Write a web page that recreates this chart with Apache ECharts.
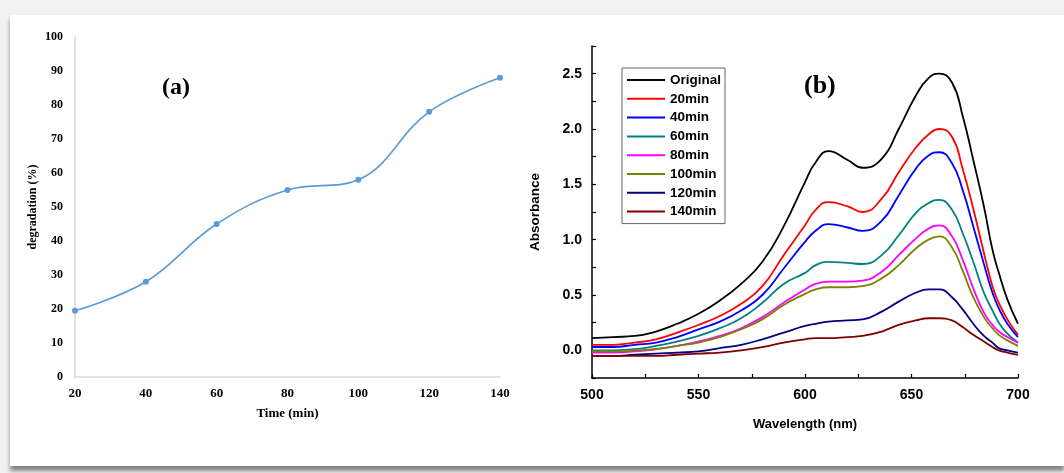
<!DOCTYPE html>
<html>
<head>
<meta charset="utf-8">
<script src="https://cdn.jsdelivr.net/npm/echarts@6/dist/echarts.min.js"></script>
<style>
  html, body { margin: 0; padding: 0; }
  body { width: 1064px; height: 473px; background: #f1f1f1; position: relative; overflow: hidden; }
  #card { position: absolute; left: 10px; top: 15px; width: 1054px; height: 451px; background: #fff;
          box-shadow: 0 5px 4px rgba(0,0,0,0.45); }
  #main { position: absolute; left: 0; top: 0; width: 1064px; height: 473px; }
</style>
</head>
<body>
<div id="card"></div>
<div id="main"></div>
<script>
  // (a) degradation vs time
  var timeMin = [20, 40, 60, 80, 100, 120, 140];
  var degradation = [19.5, 28, 45, 55, 58, 78, 88];

  // (b) absorbance spectra
  var wavelength = [500, 510, 520, 530, 540, 550, 560, 570, 580, 590, 600, 605, 611, 620, 627,
                    636, 644, 652, 658, 663, 669, 674, 679, 684, 688, 691, 695, 700];
  var absOriginal = [0.11, 0.12, 0.13, 0.17, 0.24, 0.33, 0.45, 0.60, 0.80, 1.12, 1.52, 1.70, 1.80, 1.72, 1.65,
                     1.73, 2.00, 2.30, 2.46, 2.50, 2.42, 2.12, 1.72, 1.30, 0.91, 0.70, 0.46, 0.24];
  var abs20 = [0.05, 0.05, 0.07, 0.10, 0.16, 0.23, 0.31, 0.42, 0.58, 0.86, 1.13, 1.27, 1.34, 1.30, 1.25,
               1.37, 1.61, 1.83, 1.95, 2.00, 1.93, 1.64, 1.28, 0.88, 0.58, 0.43, 0.28, 0.14];
  var abs40 = [0.03, 0.03, 0.05, 0.07, 0.12, 0.19, 0.26, 0.36, 0.50, 0.74, 0.98, 1.08, 1.14, 1.11, 1.08,
               1.17, 1.40, 1.64, 1.76, 1.79, 1.69, 1.45, 1.12, 0.78, 0.52, 0.38, 0.24, 0.12];
  var abs60 = [0.00, 0.00, 0.01, 0.04, 0.08, 0.13, 0.20, 0.29, 0.43, 0.60, 0.70, 0.77, 0.80, 0.79, 0.78,
               0.86, 1.04, 1.24, 1.33, 1.36, 1.27, 1.06, 0.80, 0.52, 0.36, 0.25, 0.15, 0.07];
  var abs80 = [-0.02, -0.02, -0.01, 0.01, 0.04, 0.08, 0.13, 0.20, 0.30, 0.43, 0.55, 0.60, 0.62, 0.62, 0.63,
               0.71, 0.86, 1.01, 1.10, 1.13, 1.03, 0.82, 0.56, 0.34, 0.23, 0.17, 0.12, 0.07];
  var abs100 = [-0.01, -0.01, 0.00, 0.01, 0.04, 0.07, 0.12, 0.19, 0.28, 0.41, 0.51, 0.55, 0.57, 0.57, 0.58,
                0.65, 0.77, 0.92, 1.00, 1.03, 0.93, 0.72, 0.48, 0.30, 0.20, 0.14, 0.09, 0.04];
  var abs120 = [-0.05, -0.05, -0.04, -0.03, -0.02, -0.01, 0.02, 0.05, 0.10, 0.16, 0.22, 0.24, 0.26, 0.27, 0.28,
                0.35, 0.44, 0.52, 0.55, 0.55, 0.48, 0.37, 0.24, 0.13, 0.07, 0.02, 0.00, -0.02];
  var abs140 = [-0.05, -0.05, -0.05, -0.05, -0.04, -0.03, -0.02, 0.00, 0.03, 0.07, 0.10, 0.11, 0.11, 0.12, 0.13,
                0.17, 0.23, 0.27, 0.29, 0.29, 0.27, 0.21, 0.14, 0.08, 0.03, 0.00, -0.02, -0.04];

  var spectraNames = ['Original', '20min', '40min', '60min', '80min', '100min', '120min', '140min'];
  var spectraColors = ['#000000', '#ff0000', '#0000ff', '#008080', '#ff00ff', '#808000', '#000080', '#800000'];
  var spectra = [absOriginal, abs20, abs40, abs60, abs80, abs100, abs120, abs140];

  function pairs(xs, ys) {
    return xs.map(function (x, i) { return [x, ys[i]]; });
  }

  var serif = 'Liberation Serif';
  var sans = 'Liberation Sans';

  var series = [
    {
      name: 'degradation',
      type: 'line',
      xAxisIndex: 0,
      yAxisIndex: 0,
      smooth: 0.4,
      symbol: 'circle',
      symbolSize: 6,
      itemStyle: { color: '#5b9bd5' },
      lineStyle: { color: '#5b9bd5', width: 1.6 },
      data: pairs(timeMin, degradation),
    },
  ];
  spectra.forEach(function (s, i) {
    series.push({
      name: spectraNames[i],
      type: 'line',
      xAxisIndex: 1,
      yAxisIndex: 1,
      smooth: 0.5,
      symbol: 'none',
      lineStyle: { color: spectraColors[i], width: 1.8 },
      itemStyle: { color: spectraColors[i] },
      data: pairs(wavelength, s),
    });
  });

  var option = {
    animation: false,
    backgroundColor: 'transparent',
    grid: [
      { left: 75, right: 564, top: 37, bottom: 96 },
      { left: 592, right: 46, top: 46, bottom: 95 },
    ],
    legend: {
      data: spectraNames,
      orient: 'vertical',
      left: 622,
      top: 68,
      padding: [5, 4, 5, 5],
      itemGap: 4.8,
      itemWidth: 38,
      itemHeight: 2,
      icon: 'rect',
      borderColor: '#666',
      borderWidth: 1,
      textStyle: { fontFamily: sans, fontWeight: 'bold', fontSize: 13.5, color: '#000', lineHeight: 14 },
    },
    xAxis: [
      {
        gridIndex: 0,
        type: 'value',
        min: 20,
        max: 140,
        interval: 20,
        name: 'Time (min)',
        nameLocation: 'middle',
        nameGap: 30,
        nameTextStyle: { fontFamily: serif, fontWeight: 'bold', fontSize: 13, color: '#000' },
        axisLine: { show: true, lineStyle: { color: '#d9d9d9', width: 1.5 } },
        axisTick: { show: false },
        splitLine: { show: false },
        axisLabel: { margin: 10, fontFamily: serif, fontWeight: 'bold', fontSize: 13, color: '#000' },
      },
      {
        gridIndex: 1,
        type: 'value',
        min: 500,
        max: 700,
        interval: 25,
        name: 'Wavelength (nm)',
        nameLocation: 'middle',
        nameGap: 40,
        nameTextStyle: { fontFamily: sans, fontWeight: 'bold', fontSize: 13, color: '#000' },
        axisLine: { show: true, onZero: false, lineStyle: { color: '#000', width: 1.5 } },
        axisTick: { show: true, inside: true, length: 4, lineStyle: { color: '#000', width: 1.2 } },
        splitLine: { show: false },
        axisLabel: {
          margin: 10, fontFamily: sans, fontWeight: 'bold', fontSize: 14, color: '#000',
          formatter: function (v) { return v % 50 === 0 ? String(v) : ''; },
        },
      },
    ],
    yAxis: [
      {
        gridIndex: 0,
        type: 'value',
        min: 0,
        max: 100,
        interval: 10,
        name: 'degradation (%)',
        nameLocation: 'middle',
        nameGap: 36,
        nameTextStyle: { fontFamily: serif, fontWeight: 'bold', fontSize: 12, color: '#000' },
        axisLine: { show: true, lineStyle: { color: '#d9d9d9', width: 1.5 } },
        axisTick: { show: false },
        splitLine: { show: false },
        axisLabel: { margin: 12, fontFamily: serif, fontWeight: 'bold', fontSize: 12, color: '#000' },
      },
      {
        gridIndex: 1,
        type: 'value',
        min: -0.25,
        max: 2.75,
        interval: 0.25,
        name: 'Absorbance',
        nameLocation: 'middle',
        nameGap: 50,
        nameTextStyle: { fontFamily: sans, fontWeight: 'bold', fontSize: 13.5, color: '#000' },
        axisLine: { show: true, onZero: false, lineStyle: { color: '#000', width: 1.5 } },
        axisTick: { show: true, inside: true, length: 4, lineStyle: { color: '#000', width: 1.2 } },
        splitLine: { show: false },
        axisLabel: {
          margin: 10, fontFamily: sans, fontWeight: 'bold', fontSize: 14, color: '#000',
          formatter: function (v) {
            var d = v * 2;
            return Math.abs(d - Math.round(d)) < 1e-6 ? v.toFixed(1) : '';
          },
        },
      },
    ],
    graphic: [
      { type: 'text', left: 162, top: 76, style: { text: '(a)', font: 'bold 24px "Liberation Serif"', fill: '#000' } },
      { type: 'text', left: 804, top: 73, style: { text: '(b)', font: 'bold 26px "Liberation Serif"', fill: '#000' } },
    ],
    series: series,
  };

  var chartDom = document.getElementById('main');
  var myChart = echarts.init(chartDom, null, { renderer: 'canvas' });
  myChart.setOption(option);
</script>
</body>
</html>
